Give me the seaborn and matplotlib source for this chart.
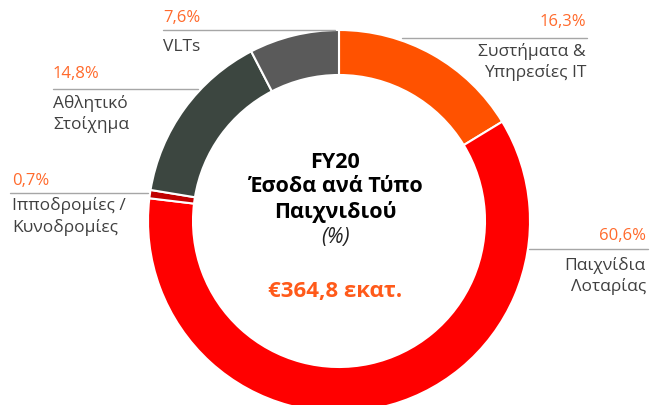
import matplotlib
matplotlib.use("Agg")
import matplotlib.pyplot as plt
import seaborn as sns

# Data
categories = ["Συστήματα &\nΥπηρεσίες IT", "Παιχνίδια\nΛοταρίας", "Ιπποδρομίες /\nΚυνοδρομίες",
              "Αθλητικό\nΣτοίχημα", "VLTs"]
shares = [16.3, 60.6, 0.7, 14.8, 7.6]
share_labels = ["16,3%", "60,6%", "0,7%", "14,8%", "7,6%"]
total_label = "€364,8 εκατ."
title_lines = ["FY20", "Έσοδα ανά Τύπο", "Παιχνιδιού"]
colors = ["#FF5200", "#FF0000", "#C00000", "#3C4640", "#5A5A5A"]

sns.set_theme(style="white")
plt.rcParams["font.family"] = ["Open Sans", "DejaVu Sans"]

W, H = 657, 405
fig = plt.figure(figsize=(W / 100, H / 100), dpi=100)
ax = fig.add_axes([0, 0, 1, 1])

def Y(y):
    # pixel row (from top) -> data y
    return H - y

cx, cy, R = 339, 221, 191
ax.pie(shares, colors=colors, startangle=90, counterclock=False,
       center=(cx, Y(cy)), radius=R,
       wedgeprops=dict(width=45, edgecolor="white", linewidth=1.5))
ax.set_xlim(0, W)
ax.set_ylim(0, H)
ax.set_aspect("equal")
ax.axis("off")

pct_color = "#FF6A2C"
txt_color = "#404040"
line_color = "#A6A6A6"

# label layout: (text x, align, pct y, line y, line x0, line x1, first label line y)
layout = [
    (586, "right", 22, 38, 402, 587, 51),
    (646, "right", 236, 249, 529, 648, 265),
    (12, "left", 181, 193, 10, 148, 206),
    (53, "left", 74, 89, 53, 198, 103),
    (163, "left", 18, 30, 163, 335, 47),
]

for cat, pl, (tx, ha, py, ly, lx0, lx1, y0) in zip(categories, share_labels, layout):
    ax.text(tx, Y(py), pl, ha=ha, va="center", fontsize=12, color=pct_color)
    ax.plot([lx0, lx1], [Y(ly), Y(ly)], color=line_color, lw=1)
    for i, part in enumerate(cat.split("\n")):
        ax.text(tx, Y(y0 + 21.5 * i), part, ha=ha, va="center", fontsize=12.5,
                color=txt_color)

# center text
tcx = 335
for i, line in enumerate(title_lines):
    ax.text(tcx, Y(162 + 25 * i), line, ha="center", va="center",
            fontsize=15.5, fontweight="bold", color="#000000")
ax.text(tcx, Y(237), "(%)", ha="center", va="center", fontsize=15, style="italic",
        color="#222222")
ax.text(tcx, Y(292), total_label, ha="center", va="center", fontsize=16,
        fontweight="bold", color="#FF5A1A")

fig.savefig("out.png", dpi=100)
